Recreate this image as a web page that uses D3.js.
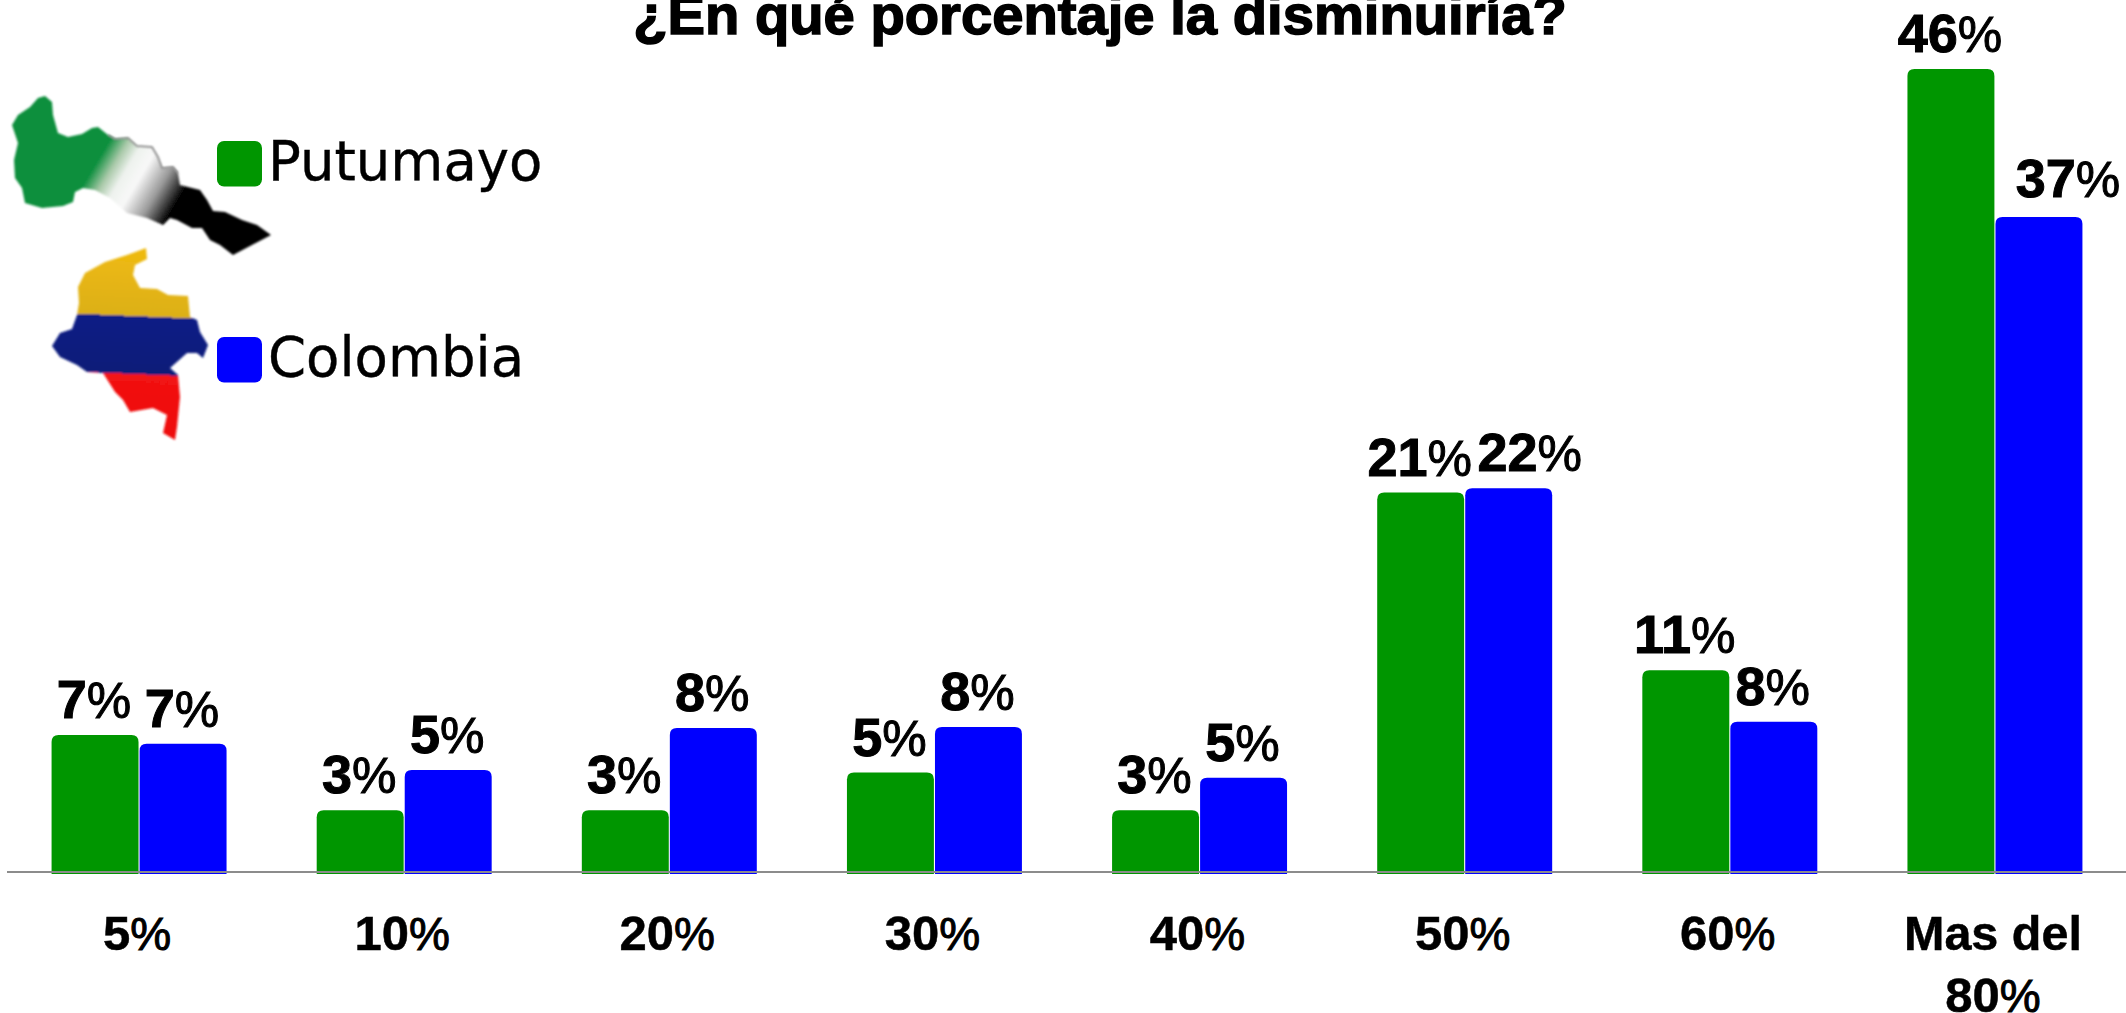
<!DOCTYPE html>
<html>
<head>
<meta charset="utf-8">
<script src="https://d3js.org/d3.v7.min.js"></script>
<style>
  html, body { margin: 0; padding: 0; background: #fff; overflow: hidden; }
  text { font-family: "Liberation Sans", Arial, sans-serif; fill: #000; }
</style>
</head>
<body>
<script>
const categories = ["5%", "10%", "20%", "30%", "40%", "50%", "60%", "Mas del 80%"];
const seriesNames = ["Putumayo", "Colombia"];
const seriesColors = ["#009600", "#0000ff"];

// bar heights, they run a bit above the printed labels
const putumayo = [7.95, 3.65, 3.65, 5.8, 3.65, 21.8, 11.65, 46];
const colombia = [7.45, 5.95, 8.35, 8.4, 5.5, 22.05, 8.7, 37.55];
const putumayoLabels = [7, 3, 3, 5, 3, 21, 11, 46];
const colombiaLabels = [7, 5, 8, 8, 5, 22, 8, 37];

const titleText = "¿En qué porcentaje la disminuiría?";

// drawn by hand from the picture, these are just decoration
const putumayoShape = "M45,96 L52,102 53,115 58,133 68,137 82,134 92,128 98,127 108,135 115,139 128,138 137,146 152,147 158,157 162,168 173,167 178,173 180,185 200,190 207,200 213,211 225,212 242,220 257,225 271,235 233,255 220,245 210,240 202,228 192,228 177,220 170,218 163,225 147,218 127,213 110,198 95,190 83,188 75,192 73,202 63,206 42,208 25,203 22,188 15,178 14,160 18,143 12,125 18,115 30,107 38,98 Z";
const putumayoEdge = "M108,135 L115,139 128,138 137,146 152,147 158,157 162,168 173,167 178,173";
const colombiaShape = "M146,248 L147,259 135,265 133,275 140,288 157,289 168,295 188,296 190,317 197,320 200,332 208,345 203,358 197,353 187,353 170,368 178,375 180,397 177,427 175,440 163,433 167,415 153,408 130,412 123,400 115,392 103,373 87,372 77,365 60,357 52,346 60,333 72,329 77,315 79,303 78,287 85,273 105,262 127,255 Z";

const width = 2126, height = 1013;

const svg = d3.select("body").append("svg")
    .attr("width", width)
    .attr("height", height);

const x0 = d3.scaleBand()
    .domain(categories)
    .range([6.5, 2127.5])
    .paddingInner(0.34)
    .paddingOuter(0.17);

const x1 = d3.scaleBand()
    .domain(seriesNames)
    .range([0, x0.bandwidth()])
    .paddingInner(0.012);

const y = d3.scaleLinear()
    .domain([0, 46])
    .range([874, 69]);

const color = d3.scaleOrdinal().domain(seriesNames).range(seriesColors);

// title, it is cut by the top edge in the original too
svg.append("text")
    .attr("x", 1100)
    .attr("y", 34)
    .attr("text-anchor", "middle")
    .style("font-size", "56.2px")
    .style("font-weight", "bold")
    .style("stroke", "#000")
    .style("stroke-width", "1.5px")
    .text(titleText);

const rows = [
    { name: seriesNames[0], values: putumayo, labels: putumayoLabels },
    { name: seriesNames[1], values: colombia, labels: colombiaLabels }
];

function topRounded(bx, by, w, h, r) {
    return "M" + bx + "," + (by + h) +
        "V" + (by + r) + "Q" + bx + "," + by + " " + (bx + r) + "," + by +
        "H" + (bx + w - r) + "Q" + (bx + w) + "," + by + " " + (bx + w) + "," + (by + r) +
        "V" + (by + h) + "Z";
}

const groups = svg.selectAll("g.serie")
    .data(rows)
    .enter().append("g")
    .attr("class", "serie");

groups.selectAll("path")
    .data(d => categories.map((c, i) => ({ name: d.name, cat: c, value: d.values[i], label: d.labels[i] })))
    .enter().append("path")
    .attr("d", d => topRounded(x0(d.cat) + x1(d.name), y(d.value), x1.bandwidth(), y(0) - y(d.value), 7))
    .attr("fill", d => color(d.name));

// two labels were pushed sideways in the original
function labelShift(d) {
    if (d.name == "Colombia" && d.cat == "50%") return 22;
    if (d.name == "Colombia" && d.cat == "Mas del 80%") return 30;
    return 0;
}

const labels = groups.selectAll("text")
    .data(d => categories.map((c, i) => ({ name: d.name, cat: c, value: d.values[i], label: d.labels[i] })))
    .enter().append("text")
    .attr("x", d => x0(d.cat) + x1(d.name) + x1.bandwidth() / 2 + labelShift(d) - 1)
    .attr("y", d => y(d.value) - (d.cat == "Mas del 80%" && d.name == "Colombia" ? 20 : 17))
    .attr("text-anchor", "middle");

labels.append("tspan")
    .style("font-size", "54px")
    .style("font-weight", "bold")
    .style("stroke", "#000")
    .style("stroke-width", "1px")
    .text(d => d.label);

labels.append("tspan")
    .style("font-size", "50px")
    .style("stroke", "#000")
    .style("stroke-width", "1px")
    .text("%");

// axis
const axis = d3.axisBottom(x0).tickSize(0).tickPadding(0);

const axisG = svg.append("g")
    .attr("transform", "translate(0,871.5)")
    .call(axis);

axisG.select(".domain").attr("stroke", "#8c8c8c").attr("stroke-width", 2);

axisG.selectAll(".tick text").each(function(d) {
    const t = d3.select(this);
    t.text(null)
        .attr("y", 0)
        .attr("dy", null)
        .style("font-weight", "bold")
        .style("stroke", "#000")
        .style("stroke-width", "0.5px");
    const lines = d.length > 4 ? ["Mas del", "80%"] : [d];
    lines.forEach((l, i) => {
        // the percent sign is lighter than the digits
        const isPct = l.endsWith("%");
        t.append("tspan")
            .attr("x", -2)
            .attr("y", 78 + i * 62)
            .style("font-size", isPct ? "49px" : "48.5px")
            .text(isPct ? l.slice(0, -1) : l);
        if (isPct) {
            t.append("tspan")
                .style("font-size", "46px")
                .style("font-weight", "normal")
                .style("stroke-width", "1px")
                .text("%");
        }
    });
});

// legend
const defs = svg.append("defs");

const putGrad = defs.append("linearGradient")
    .attr("id", "putGrad")
    .attr("gradientUnits", "userSpaceOnUse")
    .attr("x1", 95).attr("y1", 165)
    .attr("x2", 172).attr("y2", 211);
[[0, "#0f8f3e"], [0.18, "#a9c9a9"], [0.33, "#eef2ee"], [0.5, "#f8f8f8"], [0.75, "#9a9a9a"], [1, "#000"]]
    .forEach(s => putGrad.append("stop").attr("offset", s[0]).attr("stop-color", s[1]));

const colGrad = defs.append("linearGradient")
    .attr("id", "colGrad")
    .attr("gradientUnits", "userSpaceOnUse")
    .attr("x1", 138).attr("y1", 248)
    .attr("x2", 130).attr("y2", 440);
[[0, "#efba10"], [0.354, "#dcb018"], [0.354, "#0a1c86"], [0.656, "#071a78"], [0.656, "#f21212"], [1, "#ee1010"]]
    .forEach(s => colGrad.append("stop").attr("offset", s[0]).attr("stop-color", s[1]));

const soft = defs.append("filter").attr("id", "soft");
soft.append("feGaussianBlur").attr("stdDeviation", 0.9);

svg.append("path").attr("d", putumayoShape).attr("fill", "url(#putGrad)").attr("filter", "url(#soft)");
svg.append("path").attr("d", putumayoEdge).attr("fill", "none").attr("stroke", "#777").attr("stroke-width", 1.5).attr("filter", "url(#soft)");
svg.append("path").attr("d", colombiaShape).attr("fill", "url(#colGrad)").attr("filter", "url(#soft)");

const legendY = d3.scalePoint().domain(seriesNames).range([141, 337]);

svg.selectAll("rect.swatch")
    .data(seriesNames)
    .enter().append("rect")
    .attr("class", "swatch")
    .attr("x", 217)
    .attr("y", d => legendY(d))
    .attr("width", 45)
    .attr("height", 45.5)
    .attr("rx", 7)
    .attr("fill", d => color(d));

svg.selectAll("text.legend")
    .data(seriesNames)
    .enter().append("text")
    .attr("class", "legend")
    .attr("x", 268)
    .attr("y", d => legendY(d) + 39)
    .style("font-family", "'DejaVu Sans', sans-serif")
    .style("font-size", "54.5px")
    .style("stroke", "#000")
    .style("stroke-width", "0.4px")
    .text(d => d);
</script>
</body>
</html>
